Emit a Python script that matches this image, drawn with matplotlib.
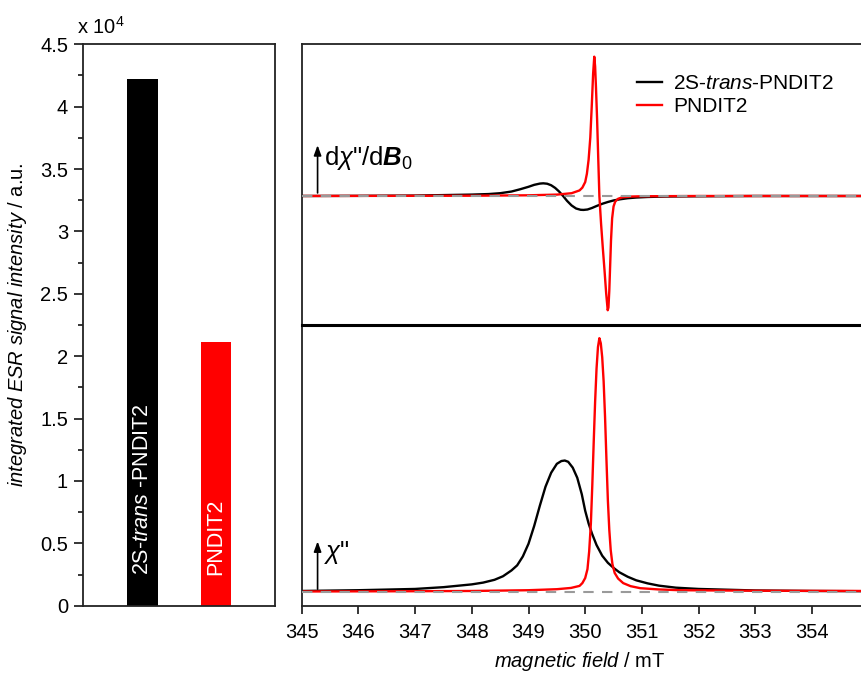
import matplotlib
matplotlib.use("Agg")
import matplotlib.pyplot as plt
from matplotlib.ticker import MultipleLocator, FuncFormatter

plt.rcParams["font.family"] = ["Liberation Sans", "DejaVu Sans"]
plt.rcParams["mathtext.fontset"] = "custom"
plt.rcParams["mathtext.rm"] = "Liberation Sans"
plt.rcParams["mathtext.it"] = "Liberation Sans:italic"
plt.rcParams["mathtext.bf"] = "Liberation Sans:bold"
plt.rcParams["mathtext.bfit"] = "Liberation Sans:bold:italic"

# --- bar chart: integrated ESR intensity (a.u.)
samples = ["2S-trans-PNDIT2", "PNDIT2"]
bar_text = [r"2S-$\mathit{trans}$ -PNDIT2", "PNDIT2"]
intensity = [4.22e4, 2.11e4]
bar_colors = ["black", "#ff0000"]

# --- first-derivative spectra (top panel), baseline = 0
d_black_B = [345.0, 346.0, 347.0, 348.0, 348.3, 348.5, 348.7, 348.85, 349.0,
             349.1, 349.2, 349.26, 349.33, 349.4, 349.47, 349.54, 349.61,
             349.68, 349.76, 349.84, 349.92, 349.97, 350.04, 350.12, 350.2,
             350.3, 350.4, 350.5, 350.61, 350.75, 350.9, 351.1, 351.4, 352.0,
             353.0, 355.0]
d_black = [0.0, 0.001, 0.003, 0.01, 0.014, 0.02, 0.032, 0.048, 0.066,
           0.08, 0.089, 0.091, 0.088, 0.077, 0.058, 0.032, 0.0,
           -0.035, -0.068, -0.09, -0.099, -0.10, -0.097, -0.086, -0.072,
           -0.056, -0.043, -0.032, -0.024, -0.016, -0.011, -0.007, -0.004, -0.002,
           0.0, 0.0]

d_red_B = [345.0, 348.0, 349.0, 349.5, 349.76, 349.9, 349.95, 350.0, 350.03,
           350.06, 350.09, 350.115, 350.14, 350.16, 350.175, 350.19, 350.21,
           350.23, 350.25, 350.28, 350.31, 350.34, 350.37, 350.397, 350.41,
           350.425, 350.44, 350.455, 350.475, 350.5, 350.53, 350.58, 350.65,
           350.8, 351.0, 352.0, 355.0]
d_red = [0.0, 0.002, 0.005, 0.01, 0.02, 0.04, 0.06, 0.10, 0.16,
         0.26, 0.42, 0.64, 0.88, 1.0, 0.93, 0.78, 0.55,
         0.27, 0.0, -0.2, -0.37, -0.53, -0.7, -0.82, -0.80,
         -0.68, -0.5, -0.32, -0.16, -0.075, -0.04, -0.02, -0.01,
         -0.004, -0.002, 0.0, 0.0]

# --- absorption spectra (bottom panel), baseline = 0
a_black_B = [345.0, 346.0, 347.0, 347.5, 348.0, 348.2, 348.4, 348.55, 348.7,
             348.8, 348.9, 349.0, 349.1, 349.2, 349.3, 349.4, 349.5, 349.58,
             349.64, 349.7, 349.78, 349.86, 349.94, 350.0, 350.06, 350.12,
             350.2, 350.3, 350.4, 350.5, 350.6, 350.75, 350.9, 351.1, 351.3,
             351.6, 352.0, 353.0, 354.0, 355.0]
a_black = [0.004, 0.007, 0.012, 0.019, 0.03, 0.037, 0.048, 0.062, 0.085,
           0.105, 0.14, 0.19, 0.26, 0.34, 0.415, 0.47, 0.505, 0.516,
           0.518, 0.513, 0.49, 0.45, 0.385, 0.32, 0.27, 0.23,
           0.185, 0.143, 0.115, 0.095, 0.078, 0.06, 0.046, 0.034, 0.025,
           0.017, 0.012, 0.006, 0.004, 0.003]

a_red_B = [345.0, 347.0, 348.0, 349.0, 349.5, 349.75, 349.9, 349.95, 350.0,
           350.04, 350.07, 350.1, 350.125, 350.15, 350.175, 350.2, 350.225,
           350.25, 350.275, 350.3, 350.325, 350.35, 350.375, 350.4, 350.425,
           350.45, 350.48, 350.52, 350.58, 350.67, 350.8, 350.97, 351.3,
           351.67, 353.0, 355.0]
a_red = [0.002, 0.003, 0.004, 0.007, 0.011, 0.016, 0.024, 0.035, 0.055,
         0.09, 0.16, 0.27, 0.42, 0.59, 0.75, 0.88, 0.965,
         1.0, 0.98, 0.925, 0.83, 0.69, 0.52, 0.36, 0.245,
         0.165, 0.11, 0.075, 0.053, 0.035, 0.023, 0.015, 0.01,
         0.007, 0.005, 0.004]

field_ticks = [345, 346, 347, 348, 349, 350, 351, 352, 353, 354]

W, H = 861, 674
fig = plt.figure(figsize=(W / 100, H / 100), dpi=100)

def px_axes(x0, y0, x1, y1):
    # axes box from pixel corners (top-left origin)
    return fig.add_axes([x0 / W, (H - y1) / H, (x1 - x0) / W, (y1 - y0) / H])

FS = 14.5

# left: bar chart
ax = px_axes(83.3, 44.3, 275.0, 605.7)
ax.bar([1, 2], [v / 1e4 for v in intensity], width=0.42, color=bar_colors)
for xpos, txt in zip([1, 2], bar_text):
    ax.text(xpos, 0.25, txt, rotation=90, color="white", ha="center",
            va="bottom", fontsize=15.5)
ax.set_xlim(0.2, 2.8)
ax.set_ylim(0, 4.5)
ax.set_xticks([])
ax.yaxis.set_major_locator(MultipleLocator(0.5))
ax.yaxis.set_minor_locator(MultipleLocator(0.25))
ax.yaxis.set_major_formatter(FuncFormatter(lambda v, p: f"{v:g}"))
ax.tick_params(axis="y", which="major", length=6.5, width=1.1, labelsize=FS, pad=4.5)
ax.tick_params(axis="y", which="minor", length=3.5, width=1.1)
for s in ax.spines.values():
    s.set_linewidth(1.3)
    s.set_color("#222222")
ax.set_ylabel(r"$\mathit{integrated\ ESR\ signal\ intensity}$ / a.u.", fontsize=FS,
              labelpad=8)
ax.text(-0.034, 1.018, r"x 10$^4$", transform=ax.transAxes, fontsize=FS,
        ha="left", va="baseline")

# right: spectra (axes runs past the figure edge to 355 mT)
x_right = 301.7 + 10 * 56.7
ax_top = px_axes(301.7, 44.0, x_right, 325.0)
ax_bot = px_axes(301.7, 325.0, x_right, 606.0)

ax_top.plot(d_black_B, d_black, color="black", lw=1.7)
ax_top.plot(d_red_B, d_red, color="#ff0000", lw=1.7)
ax_top.axhline(0, color="#9a9a9a", lw=1.5, ls=(0, (5, 4)), zorder=5)
ax_top.set_ylim(-0.926, 1.091)

ax_bot.plot(a_black_B, a_black, color="black", lw=1.7, label="2S-$\\mathit{trans}$-PNDIT2")
ax_bot.plot(a_red_B, a_red, color="#ff0000", lw=1.7, label="PNDIT2")
ax_bot.axhline(0, color="#9a9a9a", lw=1.5, ls=(0, (5, 4)), zorder=5)
ax_bot.set_ylim(-0.0552, 1.052)

for a in (ax_top, ax_bot):
    a.set_xlim(345, 355)
    a.set_yticks([])
    for s in a.spines.values():
        s.set_linewidth(1.3)
        s.set_color("#222222")
ax_top.set_xticks([])
ax_top.spines["bottom"].set_visible(False)
ax_bot.spines["top"].set_linewidth(2.2)
ax_bot.spines["top"].set_color("black")
ax_bot.set_xticks(field_ticks)
ax_bot.tick_params(axis="x", length=5.5, width=1.1, labelsize=FS, pad=7)
ax_bot.set_xlabel(r"$\mathit{magnetic\ field}$ / mT", fontsize=FS, labelpad=2)
ax_bot.xaxis.set_label_coords((580 - 301.7) / (x_right - 301.7), -0.155)

# legend in the top panel
h, l = ax_bot.get_legend_handles_labels()
ax_top.legend(h, l, loc="upper left", bbox_to_anchor=(0.592, 0.893),
              frameon=False, fontsize=15, handlelength=1.2, handletextpad=0.5,
              labelspacing=0.2, borderpad=0, borderaxespad=0)

# arrows marking the signal axes
arrow = dict(arrowstyle="-|>,head_length=0.6,head_width=0.22", color="black", lw=1.2,
             shrinkA=0, shrinkB=0)
ax_top.annotate("", xy=(0.028, 0.64), xytext=(0.028, 0.47),
                xycoords="axes fraction", arrowprops=arrow)
ax_top.text(0.040, 0.594, r'd$\chi$"/d$\mathbfit{B}_0$', transform=ax_top.transAxes,
            fontsize=18.5, va="center", ha="left")
ax_bot.annotate("", xy=(0.028, 0.23), xytext=(0.028, 0.06),
                xycoords="axes fraction", arrowprops=arrow)
ax_bot.text(0.040, 0.19, r'$\chi$"', transform=ax_bot.transAxes,
            fontsize=18.5, va="center", ha="left")

fig.savefig("out.png", dpi=100)
